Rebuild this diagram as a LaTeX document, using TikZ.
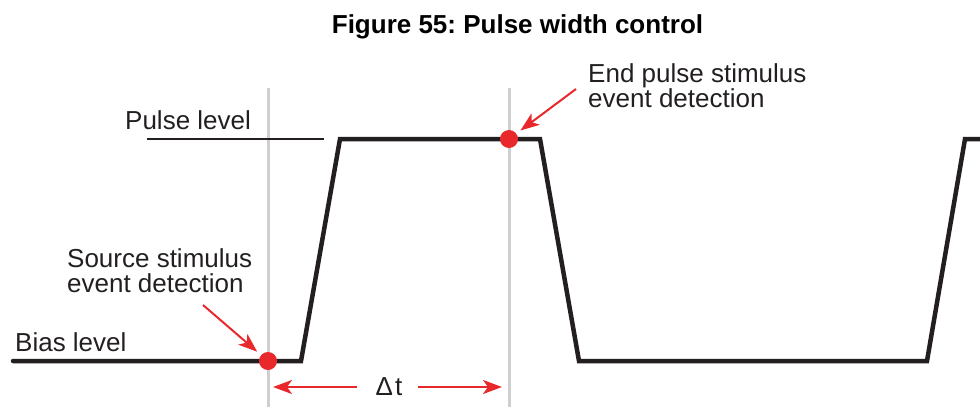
\documentclass[tikz,border=0pt]{standalone}
\usepackage{fontspec}
\setmainfont{Liberation Sans}
\usetikzlibrary{arrows.meta}
\definecolor{redc}{HTML}{E8282B}
\definecolor{guide}{HTML}{CFCFCF}
\definecolor{wave}{HTML}{231F20}
\frenchspacing
\begin{document}
\begin{tikzpicture}[x=1pt,y=-1pt,
  lbl/.style={inner sep=0pt, font=\fontsize{26}{25}\selectfont, align=left, text=wave},
  guideline/.style={draw=guide, line width=3pt},
  wavel/.style={draw=wave, line width=4.5pt, line join=miter, line cap=round},
  levell/.style={draw=wave, line width=2pt},
  dot/.style={circle, fill=redc, minimum size=18pt, inner sep=0pt},
  rarr/.style={draw=redc, line width=2pt, -{Stealth[length=19pt,width=14pt,inset=5pt]}}]
\useasboundingbox (0,0) rectangle (980,407);

% title
\node[font=\bfseries\fontsize{26}{30}\selectfont, anchor=base, inner sep=0pt] (title) at (517.5,33) {Figure 55: Pulse width control};

% guide lines
\coordinate (g1t) at (268,88);
\coordinate (g1b) at (268,407);
\coordinate (g2t) at (509,88);
\coordinate (g2b) at (509,407);
\draw[guideline] (g1t) -- (g1b);
\draw[guideline] (g2t) -- (g2b);

% pulse level reference line
\coordinate (pl0) at (147,139);
\coordinate (pl1) at (324,139);
\draw[levell] (pl0) -- (pl1);

% waveform
\coordinate (w0) at (13,361);
\coordinate (w1) at (301,361);
\coordinate (w2) at (340,139);
\coordinate (w3) at (540,139);
\coordinate (w4) at (579,361);
\coordinate (w5) at (927,361);
\coordinate (w6) at (965,139);
\coordinate (w7) at (985,139);
\draw[wavel] (w0) -- (w1) -- (w2) -- (w3) -- (w4) -- (w5) -- (w6) -- (w7);

% event dots
\node[dot] (d1) at (268,361) {};
\node[dot] (d2) at (509,139) {};

% labels
\node[lbl, anchor=base west] (pulse) at (125,129) {Pulse level};
\node[lbl, anchor=base west] (bias) at (15,351) {Bias level};
\node[lbl, anchor=north west] (src) at (67,248) {Source stimulus\\event detection};
\node[lbl, anchor=north west] (endp) at (588,63) {End pulse stimulus\\event detection};
\node[lbl, anchor=base, font=\fontsize{26}{30}\selectfont] (dt) at (389,395) {Δ\kern2pt t};

% arrows
\coordinate (s0) at (203,305);
\draw[rarr, shorten >=5pt] (s0) -- (d1);
\coordinate (e0) at (576,89);
\draw[rarr, shorten >=5pt] (e0) -- (d2);

\coordinate (la) at (357,387);
\coordinate (lb) at (273,387);
\coordinate (ra) at (418,387);
\coordinate (rb) at (502,387);
\draw[rarr] (la) -- (lb);
\draw[rarr] (ra) -- (rb);
\end{tikzpicture}
\end{document}
